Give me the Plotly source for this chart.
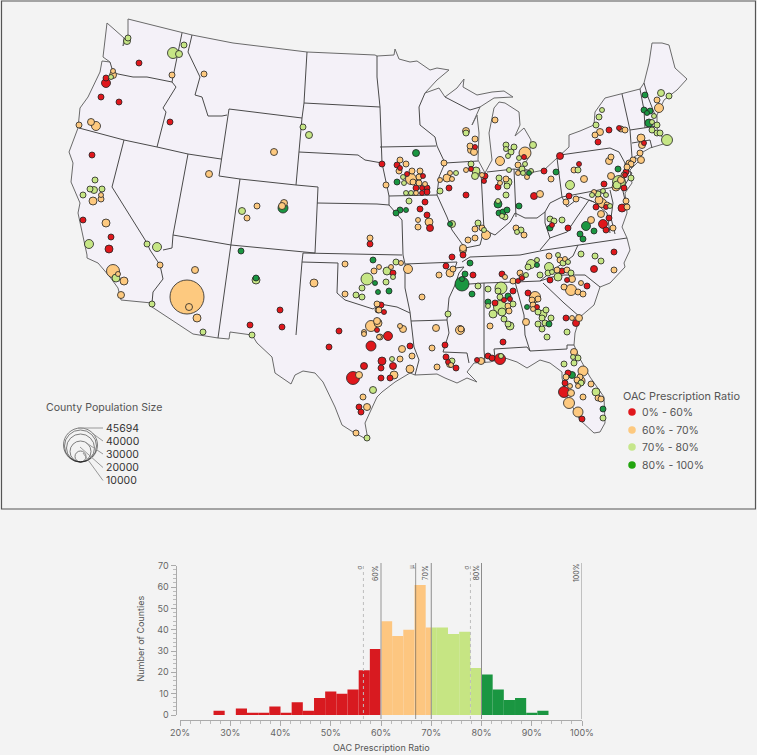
import plotly.graph_objects as go

# ---------- map geometry (map-canvas coordinates of the projected outlines) ----------
coast = [(128,19),(182,33),(192,35),(233,43),(307,52),(375,55),(377,56),(394,55),(395,49),(399,59),(410,62),(417,61),(430,70),(437,68),(449,70),
 (437,80),(425,93),(439,88),(445,97),(457,88),(464,79),(463,87),(477,95),(492,92),(504,91),(513,97),(494,98),(480,107),(472,125),(477,115),(479,133),(478,160),(485,173),(492,160),(489,133),(494,108),(499,102),(505,103),(519,112),(520,125),(515,136),(524,128),(531,140),(529,157),(522,168),
 (534,172),(544,170),(557,158),(569,147),(569,135),(580,131),(594,125),(595,112),(605,98),(622,94),(640,89),(644,83),(649,63),(652,43),(662,43),(669,45),(675,68),(687,79),(677,90),(664,100),(657,115),(657,128),(662,137),(670,142),(650,148),(634,157),(640,160),(630,170),(632,183),(625,193),(627,213),(622,227),(627,238),
 (630,250),(624,263),(625,267),(610,283),(600,287),(594,305),(580,317),(575,333),(574,345),(579,357),(590,377),(604,397),(605,423),(600,432),(594,433),(580,420),(567,397),(562,378),(562,372),(550,363),(540,360),(527,368),(517,362),(505,358),(490,362),(474,363),(467,372),(477,382),(467,378),(457,383),(445,378),(437,374),(415,375),
 (410,373),(395,382),(382,392),(377,397),(365,423),(368,440),(353,432),(342,425),(335,407),(323,382),(315,373),(303,371),(295,375),(291,384),(275,373),(272,357),(257,343),(252,335),(230,332),(229,339),(218,338),(193,334),(152,307),(152,303),(121,300),(118,288),(110,277),(98,263),(87,258),(87,255),
 (78,213),(80,203),(71,182),(73,163),(69,152),(78,128),(80,108),(88,97),(100,72),(102,61),(110,62),(103,57),(106,33),(107,23),(115,30),(124,38),(123,46),(128,35),(128,19)]

borders = [
 [(110,62),(113,72),(118,74),(133,77),(147,77),(172,82)],
 [(182,33),(172,82),(176,87),(163,108),(166,112),(157,147)],
 [(192,35),(188,52),(200,77),(195,95),(202,97),(208,116),(222,116),(227,115)],
 [(79,128),(124,140),(157,147),(188,154),(221,159)],
 [(124,140),(112,187),(147,243),(150,250),(160,265),(163,279),(153,292),(152,303)],
 [(188,154),(173,235),(172,248),(163,250)],
 [(173,235),(231,245),(315,253)],
 [(229,109),(219,176),(240,179),(296,185),(302,118),(229,109)],
 [(240,179),(231,245),(218,338)],
 [(307,52),(304,103),(302,118)],
 [(304,103),(380,107)],
 [(299,152),(358,155),(365,160),(382,163)],
 [(296,185),(318,187),(315,253)],
 [(317,203),(377,204),(389,205)],
 [(303,253),(402,255)],
 [(303,253),(302,262),(296,335)],
 [(302,262),(338,263),(337,293),(345,300),(373,309),(380,304),(397,307),(410,313)],
 [(410,312),(411,321),(414,347),(419,360),(415,375)],
 [(402,220),(403,255),(405,264),(457,262),(455,268),(464,267)],
 [(405,264),(405,288),(410,312)],
 [(411,321),(447,320)],
 [(464,267),(459,273),(455,285),(449,298),(447,320),(449,333),(443,352),(467,353),(469,363)],
 [(462,262),(470,257),(520,255),(545,250),(627,238)],
 [(455,285),(484,283),(515,282),(540,281)],
 [(540,281),(556,268),(573,256),(578,245)],
 [(540,281),(552,277),(564,275),(585,275),(600,287)],
 [(543,283),(564,303),(580,317)],
 [(515,282),(524,315),(525,335),(530,351),(567,349),(567,345),(574,345)],
 [(494,349),(527,347),(530,351)],
 [(494,349),(495,358)],
 [(484,283),(484,350),(485,363)],
 [(445,163),(439,177),(437,195),(447,217),(452,230),(465,248),(463,255)],
 [(465,248),(480,245),(484,230),(481,172)],
 [(484,230),(495,235),(510,222),(515,213),(525,218),(537,218),(545,212),(550,203),(562,197)],
 [(557,158),(562,197),(625,185)],
 [(545,212),(545,223),(550,238),(540,250)],
 [(550,238),(567,232),(577,217),(589,200),(594,202),(607,213),(610,233)],
 [(562,197),(567,207),(580,197),(594,202)],
 [(622,187),(625,200)],
 [(625,185),(632,173),(625,168),(625,163),(619,152),(610,148),(560,155)],
 [(625,163),(632,168)],
 [(622,94),(630,130),(632,157)],
 [(640,89),(644,110),(645,128)],
 [(630,130),(657,126)],
 [(632,143),(650,140),(652,148)],
 [(644,83),(648,97),(655,115)],
 [(380,147),(436,146)],
 [(389,196),(437,195)],
 [(377,56),(377,77),(380,107),(381,147),(382,163),(389,196),(389,205),(402,220)],
 [(425,93),(419,107),(420,125),(435,137),(437,146),(445,163),(478,161)],
 [(487,172),(514,169),(534,172)],
 [(514,169),(516,217)],
 [(445,97),(470,110),(480,107)],
 [(610,190),(613,203),(611,218),(615,234)],
]

# ---------- counties: (map x, map y, bubble diameter) per prescription-ratio class ----------
red_counties = [(139,63,6),(106,78,6),(106,83,9),(101,97,6),(119,102,6),(170,122,6),(92,155,6),(83,220,6),(111,237,6),(109,249,8),(370,244,6),
 (280,310,6),(250,325,6),(282,327,6),(339,331,6),(377,330,5),(329,347,6),(371,346,10),(364,366,7),(353,378,13),(359,407,6),(361,412,6),
 (393,273,6),(452,257,6),(463,255,6),(446,266,6),(473,275,6),(502,274,6),(518,281,5),(522,278,5),(513,291,6),(510,299,5),(504,300,5),(495,303,6),(503,342,6),
 (528,293,6),(537,307,5),(566,318,6),(576,323,7),(567,280,5),(550,280,6),(587,286,6),(562,271,6),(594,269,7),(614,252,6),(445,345,6),(446,357,6),(448,362,5),(456,368,6),
 (388,336,9),(410,346,6),(382,361,8),(381,368,6),(393,366,7),(381,378,6),(390,378,6),(381,305,6),(384,312,5),(477,360,5),(488,356,6),(492,358,6),(500,359,11),
 (568,373,6),(565,383,6),(564,392,11),(582,419,6),(644,143,5),(609,130,6),(619,128,5),(598,142,6),(560,156,7),(579,164,5),(626,172,6),(625,175,5),(624,188,6),
 (596,207,6),(606,207,5),(604,184,6),(622,208,8),(609,218,6),(603,224,9),(606,230,6),(569,196,6),(544,171,6),(552,225,5),(568,228,6),(534,196,7),
 (475,147,5),(471,169,5),(485,176,6),(484,181,5),(524,157,5),(498,187,6),(449,188,6),(466,195,6),(382,164,6),(397,165,6),(400,168,5),(407,174,5),(423,176,5),
 (416,188,6),(422,188,5),(427,188,6),(422,193,5),(427,192,6),(425,202,6),(420,209,6),(427,215,6),(430,228,7)]
orange_counties = [(204,74,6),(172,75,6),(113,71,5),(113,75,7),(79,125,6),(91,122,7),(96,126,9),(274,152,7),(209,174,7),(101,195,5),(101,199,6),(93,201,8),(284,203,7),(282,206,7),
 (257,206,6),(247,218,6),(106,223,8),(370,238,6),(113,271,13),(118,274,5),(124,281,8),(121,295,7),(160,265,6),(195,270,7),(187,297,34),(189,307,7),(197,318,8),
 (314,283,8),(345,264,6),(374,271,6),(379,267,5),(345,294,6),(377,304,6),(378,310,6),(371,326,11),(377,321,7),(364,332,5),(364,334,5),(379,337,5),(359,375,7),(363,397,6),(367,407,7),(356,433,6),
 (391,267,5),(401,263,5),(408,269,9),(422,297,6),(463,250,7),(439,275,6),(450,273,8),(453,269,6),(505,277,5),(520,273,6),(522,277,6),(513,281,6),(508,306,6),(509,311,6),(490,326,6),
 (535,297,11),(538,299,6),(532,300,6),(533,305,6),(533,309,5),(526,322,7),(572,318,5),(579,318,7),(571,290,11),(564,287,6),(572,279,7),(581,283,5),(578,292,6),(583,294,6),(549,256,6),(557,270,6),(567,270,6),(560,260,6),(565,259,5),(614,270,6),
 (436,328,7),(460,330,9),(461,329,6),(432,348,6),(437,367,6),(450,364,7),(451,365,5),(400,326,5),(403,329,7),(378,323,8),(380,337,6),(402,349,7),(412,356,6),(400,359,6),(410,369,8),(394,375,8),(379,310,6),(481,361,7),
 (574,352,7),(583,371,10),(566,377,6),(580,377,6),(580,381,10),(577,380,6),(578,386,5),(591,384,6),(571,393,7),(598,398,6),(601,399,6),(583,397,6),(569,403,11),(578,412,10),(570,386,5),
 (657,100,6),(659,108,9),(641,138,8),(642,145,7),(640,153,6),(641,160,7),(600,132,7),(595,135,6),(621,129,6),(625,130,6),(611,157,6),(609,161,7),(574,170,6),(584,179,7),(611,176,7),
 (633,160,6),(629,163,6),(631,164,6),(627,167,6),(624,175,6),(621,180,7),(616,187,8),(594,192,5),(599,200,8),(602,203,9),(607,205,6),(626,201,6),(627,207,6),(601,214,7),(591,220,7),(613,228,6),
 (576,199,6),(566,202,6),(551,179,6),(540,194,7),(495,120,6),(475,139,6),(466,131,7),(470,146,6),(471,150,7),(474,152,7),(466,170,5),(482,175,5),(525,153,12),(500,161,9),(518,165,6),(518,173,5),(527,177,5),
 (500,183,5),(506,179,6),(444,163,6),(440,180,5),(447,178,8),(450,173,5),(452,179,5),(475,229,6),(482,228,6),(486,235,9),(475,238,6),(468,240,6),(463,248,7),(516,228,6),(524,235,6),
 (400,160,6),(406,164,6),(399,171,6),(412,171,6),(420,171,6),(411,179,11),(419,177,6),(413,182,6),(419,183,6),(425,184,5),(416,193,5),(386,185,6),(418,220,5),(429,222,8),(418,227,6)]
light_green_counties = [(128,38,6),(127,41,7),(173,53,11),(179,54,7),(184,45,6),(111,77,5),(303,127,6),(309,135,7),(95,180,6),(90,189,6),(94,190,7),(102,189,6),(83,195,6),(242,211,7),(89,244,9),(147,244,6),(157,247,9),
 (116,278,8),(203,332,6),(152,304,6),(256,280,8),(252,335,6),(367,279,12),(362,288,6),(356,295,6),(362,297,6),(373,390,7),(367,438,6),(387,271,8),(396,262,6),(393,277,5),(386,282,6),(478,286,6),(488,289,6),(448,314,6),
 (526,275,5),(528,267,6),(531,264,9),(537,260,5),(501,288,12),(498,291,6),(500,297,6),(488,306,5),(500,307,13),(513,304,6),(493,314,8),(502,312,8),(504,319,6),(508,324,6),(510,326,8),
 (538,312,6),(546,310,6),(543,314,8),(542,318,6),(551,318,6),(538,324,6),(545,323,6),(542,329,6),(547,337,6),(567,332,6),(558,277,8),(549,267,9),(558,255,5),(548,273,6),(552,272,5),(540,275,6),(571,273,6),(563,263,6),(568,262,5),(581,254,6),(595,256,6),(601,261,6),
 (452,361,6),(392,359,5),(501,356,5),(573,357,5),(578,358,6),(574,363,6),(564,364,6),(581,383,6),(596,392,8),(603,418,6),
 (661,93,7),(669,96,6),(654,116,5),(652,122,5),(657,125,6),(652,130,6),(657,133,6),(660,133,6),(667,140,11),(602,110,5),(599,117,6),(596,125,6),(578,170,6),(570,185,9),(619,182,13),(617,185,8),(631,178,6),
 (592,195,5),(598,194,6),(603,191,5),(606,195,5),(610,206,5),(550,219,6),(554,221,6),(562,220,6),(466,133,6),(471,164,6),(476,171,8),(475,176,7),
 (506,145,6),(514,147,6),(511,152,6),(508,156,5),(506,149,5),(533,145,7),(519,158,5),(525,164,5),(522,169,6),(523,173,5),(531,171,5),(509,170,5),
 (499,178,6),(508,182,8),(507,186,6),(506,195,6),(498,201,5),(502,216,5),(505,217,6),(456,173,5),(440,191,6),(452,224,7),(478,223,6),(484,230,5),(521,230,6),(517,232,5),(403,177,5),(404,183,5),(406,193,5),(411,193,5),(409,201,6)]
dark_green_counties = [(283,208,10),(241,251,6),(256,278,6),(373,260,6),(375,283,5),(378,292,5),(389,291,6),(470,263,6),(465,274,6),(462,284,14),(462,279,5),(472,294,6),(537,265,5),(508,296,6),(488,302,6),
 (527,307,5),(549,324,6),(572,375,7),(603,409,6),(645,95,6),(644,110,6),(647,113,5),(650,111,6),(649,123,8),(618,169,6),(586,226,9),(594,231,6),(580,234,6),(583,239,6),(556,172,6),(550,228,6),(519,206,6),(529,173,5),
 (498,204,8),(499,213,6),(503,212,6),(507,210,6),(450,224,5),(416,153,7),(397,182,6),(400,210,6),(406,210,5),(396,213,6)]

ratio_classes = ["0% - 60%", "60% - 70%", "70% - 80%", "80% - 100%"]
size_legend_values = ["45694", "40000", "30000", "20000", "10000"]
size_legend_diameters = [34, 32, 28, 21, 11]

# ---------- histogram ----------
bin_left = [26.67,28.89,31.11,33.33,35.56,37.78,40,42.22,44.44,46.67,48.89,51.11,53.33,55.56,57.78,60,62.22,64.44,66.67,68.89,71.11,73.33,75.56,77.78,80,82.22,84.44,86.67,88.89,91.11]
bin_count = [2,0,3,1,1,4,1,6,2,8,11,10,12,21,31,44,37,40,61,41,41,38,39,22,19,12,7,8,1,2]
bin_width = 2.222
class_edges = [0, 60, 70, 80, 100]
threshold_labels = [60, 70, 80, 100]
stat_lines = [(56.5, "σ", "dot"), (66.9, "μ", "solid"), (77.8, "σ", "dot")]

# ---------- style ----------
BG = "#f3f3f3"; LAND = "#f4f1f8"; FONT = "Inter"
map_colors = ["#e0171c", "#fdc97f", "#c6e685", "#1a9641"]
bar_colors = ["#d81a20", "#fdc680", "#c6e583", "#1a9641"]
legend_colors = ["#e0171c", "#fdc97f", "#c6e68b", "#22a50f"]
W, H = 757, 755

fig = go.Figure()

def xs(p): return [q[0] for q in p]
def ys(p): return [q[1] for q in p]

fig.add_trace(go.Scatter(x=xs(coast), y=ys(coast), mode="lines", fill="toself", fillcolor=LAND,
                         line=dict(color="#6a6a6a", width=1), hoverinfo="skip", showlegend=False))
bx, by = [], []
for b in borders:
    bx += xs(b) + [None]; by += ys(b) + [None]
fig.add_trace(go.Scatter(x=bx, y=by, mode="lines", line=dict(color="#4a4a4a", width=1),
                         hoverinfo="skip", showlegend=False))

merged = []
for i, group in enumerate([red_counties, orange_counties, light_green_counties, dark_green_counties]):
    merged += [(x, y, d, map_colors[i]) for x, y, d in group]
merged.sort(key=lambda r: -r[2])
fig.add_trace(go.Scatter(x=[r[0] for r in merged], y=[r[1] for r in merged], mode="markers",
                         marker=dict(size=[r[2] for r in merged], color=[r[3] for r in merged],
                                     opacity=1, line=dict(color="#222222", width=0.8)),
                         showlegend=False, hoverinfo="skip"))

# size legend
cx, bottom = 80.5, 462
fig.add_trace(go.Scatter(x=[cx]*5, y=[bottom - d/2 for d in size_legend_diameters], mode="markers",
                         marker=dict(size=size_legend_diameters, color="rgba(0,0,0,0)",
                                     line=dict(color="#222222", width=0.8)), showlegend=False, hoverinfo="skip"))
leader_start = [(78,428),(92,433),(85,442),(80,447),(83,453)]
label_y = [428, 441, 454, 467.5, 480.5]
shapes = []
for (sx, sy), ly, val in zip(leader_start, label_y, size_legend_values):
    shapes.append(dict(type="line", xref="x", yref="y", x0=sx, y0=sy, x1=103, y1=ly, line=dict(color="#999999", width=1)))
annotations = [dict(x=103.5, y=ly, xref="x", yref="y", text=val, showarrow=False, xanchor="left", yanchor="middle",
                    font=dict(family=FONT, size=10.5, color="#333333")) for ly, val in zip(label_y, size_legend_values)]
annotations.append(dict(x=43.5, y=407, xref="x", yref="y", text="County Population Size", showarrow=False, xanchor="left",
                        yanchor="middle", font=dict(family=FONT, size=10.6, color="#555555")))

# ratio legend
leg_y = [412, 430, 447, 465]
fig.add_trace(go.Scatter(x=[632]*4, y=leg_y, mode="markers", marker=dict(size=7.5, color=legend_colors),
                         showlegend=False, hoverinfo="skip"))
for ly, t in zip(leg_y, ratio_classes):
    annotations.append(dict(x=639.5, y=ly, xref="x", yref="y", text=t, showarrow=False, xanchor="left", yanchor="middle",
                            font=dict(family=FONT, size=10.5, color="#555555")))
annotations.append(dict(x=620.5, y=396, xref="x", yref="y", text="OAC Prescription Ratio", showarrow=False, xanchor="left",
                        yanchor="middle", font=dict(family=FONT, size=10.9, color="#555555")))

# histogram bars, cut at the class edges
for c in range(4):
    lo, hi = class_edges[c], class_edges[c+1]
    cxs, cws, chs = [], [], []
    for l, n in zip(bin_left, bin_count):
        a, b = max(l, lo), min(l + bin_width, hi)
        if b > a and n > 0:
            cxs.append((a + b) / 2); cws.append(b - a); chs.append(n)
    fig.add_trace(go.Bar(x=cxs, y=chs, width=cws, marker=dict(color=bar_colors[c], line=dict(width=0)),
                         xaxis="x2", yaxis="y2", showlegend=False, hoverinfo="skip"))

def py(v): return 1 - v / H

for v in threshold_labels:
    line = dict(color="#b4b4b4", width=1.5) if v == 60 else dict(color="#8c8c8c", width=1)
    shapes.append(dict(type="line", xref="x2", yref="paper", x0=v, x1=v, y0=py(719), y1=py(563), line=line))
    annotations.append(dict(x=v, y=py(573), xref="x2", yref="paper", text=f"{v}%", textangle=-90, showarrow=False, xshift=-6,
                            xanchor="center", yanchor="middle", font=dict(family=FONT, size=7, color="#555555")))
for v, t, dash in stat_lines:
    shapes.append(dict(type="line", xref="x2", yref="paper", x0=v, x1=v, y0=py(719), y1=py(563),
                       line=dict(color="rgba(90,90,90,0.6)" if dash == "solid" else "#bdbdbd", width=1, dash=dash)))
    annotations.append(dict(x=v, y=py(567), xref="x2", yref="paper", text=t, textangle=-90, showarrow=False, xshift=-4,
                            xanchor="center", yanchor="middle", font=dict(family=FONT, size=6, color="#555555")))

shapes.append(dict(type="rect", xref="paper", yref="paper", x0=1.5/W, x1=755.5/W, y0=py(509), y1=py(1), line=dict(color="#555555", width=1.2)))
annotations.append(dict(x=381, y=747.5, xref="x", yref="y", text="OAC Prescription Ratio", showarrow=False, font=dict(family=FONT, size=9, color="#555555")))
annotations.append(dict(x=139.5, y=639, xref="x", yref="y", text="Number of Counties", textangle=-90, showarrow=False, font=dict(family=FONT, size=9, color="#555555")))

tick_font = dict(family=FONT, size=9, color="#666666")
fig.update_layout(
    width=W, height=H, margin=dict(l=0, r=0, t=0, b=0, autoexpand=False), paper_bgcolor=BG, plot_bgcolor="rgba(0,0,0,0)",
    showlegend=False, barmode="overlay", shapes=shapes, annotations=annotations, font=dict(family=FONT),
    xaxis=dict(range=[0, W], domain=[0, 1], visible=False, fixedrange=True),
    yaxis=dict(range=[H, 0], domain=[0, 1], visible=False, fixedrange=True),
    xaxis2=dict(range=[20, 100], domain=[180/W, 582/W], anchor="free", position=py(719.5), side="bottom",
                showgrid=False, zeroline=False, showline=True, linecolor="#aaaaaa", linewidth=1, ticks="outside", ticklen=5, tickcolor="#aaaaaa",
                tick0=20, dtick=10, ticksuffix="%", tickfont=tick_font, minor=dict(dtick=2, ticks="outside", ticklen=3, tickcolor="#bbbbbb"), fixedrange=True),
    yaxis2=dict(range=[0, 70], domain=[py(715), py(565.7)], anchor="free", position=175.5/W, side="left",
                showgrid=False, zeroline=False, showline=True, linecolor="#aaaaaa", linewidth=1, ticks="outside", ticklen=5, tickcolor="#aaaaaa",
                tick0=0, dtick=10, tickfont=tick_font, minor=dict(dtick=2, ticks="outside", ticklen=3, tickcolor="#bbbbbb"), fixedrange=True),
)

fig.write_html("out.html", config=dict(displayModeBar=False), post_script="document.body.style.margin='0';document.body.style.overflow='hidden';")
